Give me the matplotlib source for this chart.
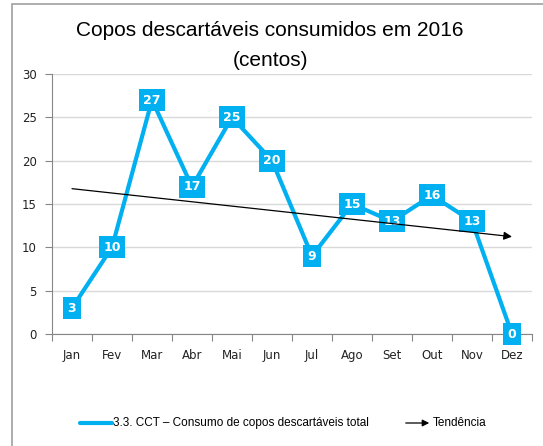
import numpy as np
import matplotlib
matplotlib.use('Agg')
import matplotlib.pyplot as plt
from matplotlib.patches import Rectangle, FancyArrowPatch
from matplotlib.lines import Line2D

# Data
months = ['Jan', 'Fev', 'Mar', 'Abr', 'Mai', 'Jun', 'Jul', 'Ago', 'Set', 'Out', 'Nov', 'Dez']
values = [3, 10, 27, 17, 25, 20, 9, 15, 13, 16, 13, 0]
y_ticks = [0, 5, 10, 15, 20, 25, 30]

cyan = '#00B0F0'
grey = '#868686'

fig = plt.figure(figsize=(5.43, 4.46), dpi=100)
fig.patches.append(Rectangle((12 / 543, -0.1), 1, 1.1 - 4 / 446, transform=fig.transFigure,
                             fill=False, edgecolor='#A0A0A0', linewidth=1.2))

ax = fig.add_axes([52 / 543, 112 / 446, 480 / 543, 260 / 446])
x = np.arange(len(months))

ax.set_xlim(-0.5, 11.5)
ax.set_ylim(0, 30)
ax.set_yticks(y_ticks)
ax.yaxis.grid(True, color='#D9D9D9', linewidth=1)
ax.set_axisbelow(True)
ax.set_xticks(np.arange(-0.5, 12, 1))
ax.set_xticklabels([])
ax.set_xticks(x, minor=True)
ax.set_xticklabels(months, minor=True)
ax.tick_params(axis='x', which='minor', length=0, pad=11, labelsize=8.5, labelcolor='#222222')
ax.tick_params(axis='x', which='major', length=5, color=grey, direction='out')
ax.tick_params(axis='y', length=5, color=grey, labelsize=8.5, labelcolor='#222222', pad=6)
for s in ['top', 'right']:
    ax.spines[s].set_visible(False)
for s in ['left', 'bottom']:
    ax.spines[s].set_color(grey)

# main series
ax.plot(x, values, color=cyan, linewidth=3, solid_joinstyle='miter', zorder=3)
for xi, v in zip(x, values):
    ax.text(xi, v, str(v), ha='center', va='center', color='white', fontsize=9,
            fontweight='bold', zorder=4, clip_on=False,
            bbox=dict(boxstyle='square,pad=0.35', facecolor=cyan, edgecolor='none'))

# trend line (linear fit)
m, b = np.polyfit(x, values, 1)
ax.annotate('', xy=(x[-1], m * x[-1] + b), xytext=(x[0], m * x[0] + b),
            arrowprops=dict(arrowstyle='-|>', color='black', lw=0.9, mutation_scale=12,
                            shrinkA=0, shrinkB=0), zorder=5)

fig.text(270 / 543, 1 - 30 / 446, 'Copos descartáveis consumidos em 2016', ha='center', va='center',
         fontsize=15, family='Liberation Sans')
fig.text(270 / 543, 1 - 60 / 446, '(centos)', ha='center', va='center',
         fontsize=15, family='Liberation Sans')

# legend
ly = 1 - 423 / 446
fig.add_artist(Line2D([80 / 543, 112 / 543], [ly, ly], color=cyan, linewidth=3,
                      solid_capstyle='round', transform=fig.transFigure))
fig.text(113 / 543, ly, '3.3. CCT – Consumo de copos descartáveis total', ha='left', va='center',
         fontsize=8.5, family='Liberation Sans')
fig.patches.append(FancyArrowPatch((403 / 543, ly), (432 / 543, ly),
                                   transform=fig.transFigure, arrowstyle='-|>',
                                   color='black', lw=0.9, mutation_scale=10))
fig.text(433 / 543, ly, 'Tendência', ha='left', va='center', fontsize=8.5, family='Liberation Sans')

fig.savefig('out.png', dpi=100)
